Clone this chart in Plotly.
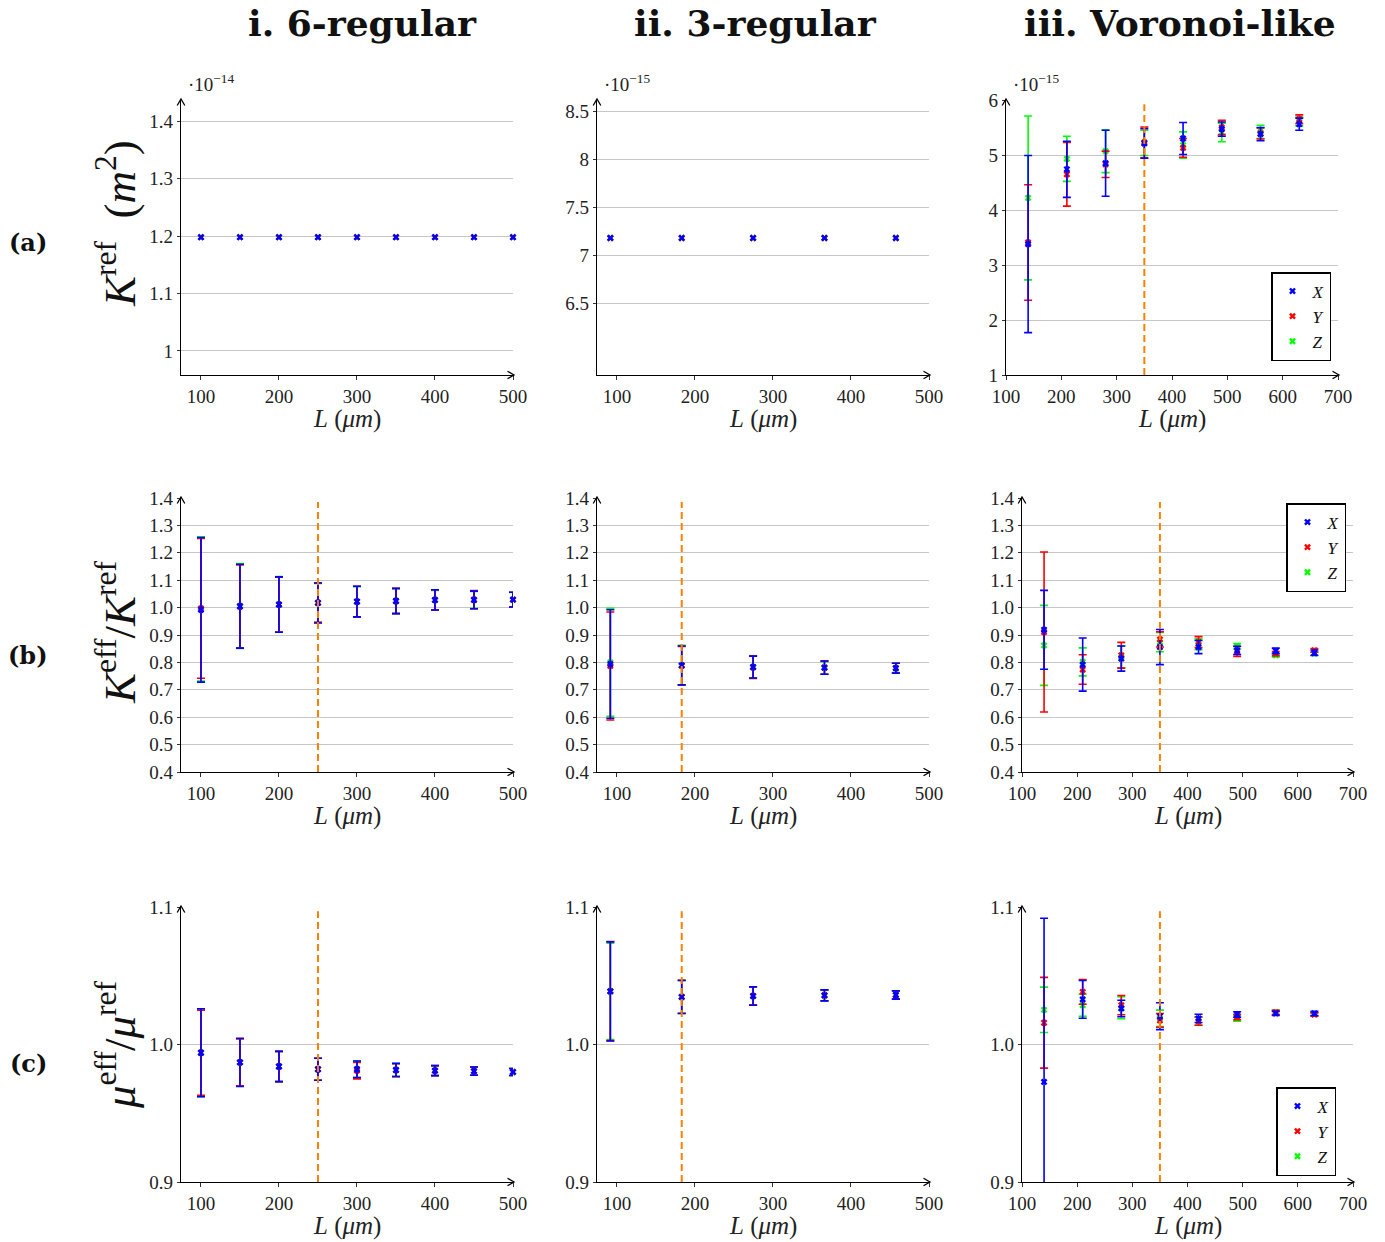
import plotly.graph_objects as go

W, H = 1385, 1242

# ------------------------------------------------------------------
# Sample sizes L (micrometres)
# ------------------------------------------------------------------
L_6reg = [100, 150, 200, 250, 300, 350, 400, 450, 500]
L_3reg = [91.5, 183, 274.5, 366, 457.5]
L_vor = [140, 210, 280, 350, 420, 490, 560, 630]

# ------------------------------------------------------------------
# Row (a): reference permeability K_ref
# 6-regular in units of 1e-14 m^2, 3-regular / Voronoi in 1e-15 m^2
# ------------------------------------------------------------------
kref_6reg_x = [1.198] * 9
kref_6reg_y = [1.198] * 9
kref_6reg_z = [1.198] * 9

kref_3reg_x = [7.18] * 5
kref_3reg_y = [7.18] * 5
kref_3reg_z = [7.18] * 5

kref_vor_x = [3.38, 4.74, 4.85, 5.21, 5.30, 5.47, 5.38, 5.56]
kref_vor_x_err = [1.61, 0.51, 0.60, 0.27, 0.29, 0.13, 0.12, 0.11]
kref_vor_y = [3.41, 4.65, 4.83, 5.23, 5.13, 5.50, 5.39, 5.65]
kref_vor_y_err = [1.05, 0.58, 0.24, 0.28, 0.17, 0.13, 0.10, 0.08]
kref_vor_z = [4.22, 4.93, 5.07, 5.22, 5.18, 5.41, 5.42, 5.61]
kref_vor_z_err = [1.49, 0.41, 0.39, 0.23, 0.24, 0.17, 0.12, 0.08]

# ------------------------------------------------------------------
# Row (b): K_eff / K_ref
# ------------------------------------------------------------------
keff_6reg_x = [0.992, 1.005, 1.011, 1.017, 1.022, 1.024, 1.028, 1.028, 1.029]
keff_6reg_x_err = [0.264, 0.153, 0.101, 0.073, 0.056, 0.046, 0.037, 0.032, 0.027]
keff_6reg_y = [0.997, 1.004, 1.011, 1.018, 1.022, 1.024, 1.028, 1.029, 1.029]
keff_6reg_y_err = [0.255, 0.152, 0.100, 0.072, 0.056, 0.046, 0.037, 0.033, 0.027]
keff_6reg_z = [0.995, 1.006, 1.012, 1.017, 1.021, 1.024, 1.027, 1.028, 1.029]
keff_6reg_z_err = [0.263, 0.155, 0.101, 0.071, 0.055, 0.045, 0.036, 0.031, 0.026]

keff_3reg_x = [0.794, 0.789, 0.783, 0.781, 0.779]
keff_3reg_x_err = [0.198, 0.071, 0.040, 0.024, 0.018]
keff_3reg_y = [0.787, 0.788, 0.782, 0.781, 0.779]
keff_3reg_y_err = [0.197, 0.070, 0.041, 0.024, 0.018]
keff_3reg_z = [0.800, 0.790, 0.784, 0.780, 0.780]
keff_3reg_z_err = [0.197, 0.072, 0.040, 0.023, 0.017]

keff_vor_x = [0.919, 0.792, 0.814, 0.856, 0.856, 0.844, 0.842, 0.835]
keff_vor_x_err = [0.144, 0.097, 0.046, 0.064, 0.024, 0.015, 0.010, 0.010]
keff_vor_y = [0.911, 0.774, 0.826, 0.884, 0.874, 0.840, 0.832, 0.844]
keff_vor_y_err = [0.292, 0.054, 0.047, 0.028, 0.020, 0.018, 0.008, 0.007]
keff_vor_z = [0.862, 0.802, 0.820, 0.874, 0.866, 0.859, 0.826, 0.832]
keff_vor_z_err = [0.146, 0.051, 0.040, 0.035, 0.020, 0.010, 0.006, 0.006]

# ------------------------------------------------------------------
# Row (c): mu_eff / mu_ref
# ------------------------------------------------------------------
mu_6reg_x = [0.994, 0.987, 0.984, 0.982, 0.982, 0.9815, 0.981, 0.9806, 0.980]
mu_6reg_x_err = [0.032, 0.0175, 0.011, 0.008, 0.006, 0.0048, 0.0036, 0.003, 0.0025]
mu_6reg_y = [0.994, 0.987, 0.984, 0.982, 0.981, 0.9813, 0.981, 0.9806, 0.980]
mu_6reg_y_err = [0.031, 0.0170, 0.011, 0.008, 0.006, 0.0047, 0.0036, 0.003, 0.0025]
mu_6reg_z = [0.994, 0.987, 0.984, 0.982, 0.982, 0.9815, 0.981, 0.9806, 0.980]
mu_6reg_z_err = [0.032, 0.0172, 0.011, 0.008, 0.006, 0.0047, 0.0035, 0.003, 0.0025]

mu_3reg_x = [1.0386, 1.0345, 1.0352, 1.0357, 1.0360]
mu_3reg_x_err = [0.036, 0.012, 0.0067, 0.004, 0.003]
mu_3reg_y = [1.0388, 1.0347, 1.0354, 1.0358, 1.0361]
mu_3reg_y_err = [0.036, 0.012, 0.0066, 0.004, 0.003]
mu_3reg_z = [1.0386, 1.0346, 1.0352, 1.0357, 1.0360]
mu_3reg_z_err = [0.035, 0.012, 0.0066, 0.004, 0.003]

mu_vor_x = [0.9728, 1.0328, 1.0262, 1.0206, 1.0190, 1.0218, 1.0226, 1.0226]
mu_vor_x_err = [0.119, 0.0137, 0.006, 0.0098, 0.003, 0.002, 0.0015, 0.0015]
mu_vor_y = [1.0158, 1.0383, 1.0286, 1.0175, 1.0170, 1.0200, 1.0233, 1.0218]
mu_vor_y_err = [0.033, 0.009, 0.007, 0.005, 0.003, 0.002, 0.0015, 0.0012]
mu_vor_z = [1.0252, 1.0286, 1.0267, 1.0190, 1.0170, 1.0190, 1.0233, 1.0220]
mu_vor_z_err = [0.0165, 0.008, 0.008, 0.006, 0.003, 0.002, 0.0015, 0.0012]

# ------------------------------------------------------------------
# Labels
# ------------------------------------------------------------------
column_titles = ["i. 6-regular", "ii. 3-regular", "iii. Voronoi-like"]
row_labels = ["(a)", "(b)", "(c)"]
row_ytitles = [
    "<i>K</i><sup>ref</sup>\u2002(<i>m</i><sup>2</sup>)",
    "<i>K</i><sup>eff</sup>/<i>K</i><sup>ref</sup>",
    "<i>μ</i><sup>eff</sup>/<i>μ</i><sup>ref</sup>",
]
x_title = "<i>L</i> (<i>μm</i>)"
exponent_labels = ["·10<sup>−14</sup>", "·10<sup>−15</sup>", "·10<sup>−15</sup>"]

xticks_short = [100, 200, 300, 400, 500]
xticks_vor = [100, 200, 300, 400, 500, 600, 700]

yticks_a6 = [1.0, 1.1, 1.2, 1.3, 1.4]
yticks_a6_text = ["1", "1.1", "1.2", "1.3", "1.4"]
yticks_a3 = [6.5, 7.0, 7.5, 8.0, 8.5]
yticks_a3_text = ["6.5", "7", "7.5", "8", "8.5"]
yticks_av = [1, 2, 3, 4, 5, 6]
yticks_av_text = ["1", "2", "3", "4", "5", "6"]
yticks_b = [0.4, 0.5, 0.6, 0.7, 0.8, 0.9, 1.0, 1.1, 1.2, 1.3, 1.4]
yticks_b_text = ["%.1f" % v for v in yticks_b]
yticks_c = [0.9, 1.0, 1.1]
yticks_c_text = ["0.9", "1.0", "1.1"]

# Representative volume element thresholds (orange dashed lines)
rve_6reg = 250
rve_3reg = 183
rve_vor = 350

# ------------------------------------------------------------------
# Layout geometry (pixels from the top-left corner)
# ------------------------------------------------------------------
SERIF = "Liberation Serif, Times New Roman, serif"
BOLD_SERIF = "DejaVu Serif, Liberation Serif, serif"
COLORS = {"X": "#0000ff", "Y": "#ff0000", "Z": "#00ff00"}
GRID = "#c6c6c6"

col_px = [[(181, 513), (597, 929), (1006, 1338)],
          [(181, 513), (597, 929), (1022, 1353)],
          [(181, 513), (597, 929), (1022, 1353)]]
row_px = [(100, 375), (498, 772), (907, 1182)]


def px_x(p):
    return p / W


def px_y(p):
    return 1 - p / H


panels = [
    # row a
    dict(L=L_6reg, s={"X": (kref_6reg_x, None), "Y": (kref_6reg_y, None), "Z": (kref_6reg_z, None)},
         xr=[74.4, 500], xt=xticks_short, yr=[0.958, 1.437], yt=yticks_a6, ytt=yticks_a6_text, rve=None, legend=None),
    dict(L=L_3reg, s={"X": (kref_3reg_x, None), "Y": (kref_3reg_y, None), "Z": (kref_3reg_z, None)},
         xr=[74.4, 500], xt=xticks_short, yr=[5.75, 8.62], yt=yticks_a3, ytt=yticks_a3_text, rve=None, legend=None),
    dict(L=L_vor, s={"X": (kref_vor_x, kref_vor_x_err), "Y": (kref_vor_y, kref_vor_y_err), "Z": (kref_vor_z, kref_vor_z_err)},
         xr=[100, 700], xt=xticks_vor, yr=[1, 6], yt=yticks_av, ytt=yticks_av_text, rve=rve_vor, legend="legend"),
    # row b
    dict(L=L_6reg, s={"X": (keff_6reg_x, keff_6reg_x_err), "Y": (keff_6reg_y, keff_6reg_y_err), "Z": (keff_6reg_z, keff_6reg_z_err)},
         xr=[74.4, 500], xt=xticks_short, yr=[0.4, 1.4], yt=yticks_b, ytt=yticks_b_text, rve=rve_6reg, legend=None),
    dict(L=L_3reg, s={"X": (keff_3reg_x, keff_3reg_x_err), "Y": (keff_3reg_y, keff_3reg_y_err), "Z": (keff_3reg_z, keff_3reg_z_err)},
         xr=[74.4, 500], xt=xticks_short, yr=[0.4, 1.4], yt=yticks_b, ytt=yticks_b_text, rve=rve_3reg, legend=None),
    dict(L=L_vor, s={"X": (keff_vor_x, keff_vor_x_err), "Y": (keff_vor_y, keff_vor_y_err), "Z": (keff_vor_z, keff_vor_z_err)},
         xr=[100, 700], xt=xticks_vor, yr=[0.4, 1.4], yt=yticks_b, ytt=yticks_b_text, rve=rve_vor, legend="legend2"),
    # row c
    dict(L=L_6reg, s={"X": (mu_6reg_x, mu_6reg_x_err), "Y": (mu_6reg_y, mu_6reg_y_err), "Z": (mu_6reg_z, mu_6reg_z_err)},
         xr=[74.4, 500], xt=xticks_short, yr=[0.9, 1.1], yt=yticks_c, ytt=yticks_c_text, rve=rve_6reg, legend=None),
    dict(L=L_3reg, s={"X": (mu_3reg_x, mu_3reg_x_err), "Y": (mu_3reg_y, mu_3reg_y_err), "Z": (mu_3reg_z, mu_3reg_z_err)},
         xr=[74.4, 500], xt=xticks_short, yr=[0.9, 1.1], yt=yticks_c, ytt=yticks_c_text, rve=rve_3reg, legend=None),
    dict(L=L_vor, s={"X": (mu_vor_x, mu_vor_x_err), "Y": (mu_vor_y, mu_vor_y_err), "Z": (mu_vor_z, mu_vor_z_err)},
         xr=[100, 700], xt=xticks_vor, yr=[0.9, 1.1], yt=yticks_c, ytt=yticks_c_text, rve=rve_vor, legend="legend3"),
]

fig = go.Figure()
layout = dict(
    width=W, height=H, margin=dict(l=0, r=0, t=0, b=0, pad=0, autoexpand=False),
    paper_bgcolor="white", plot_bgcolor="white",
    font=dict(family=SERIF, color="#222"),
)
annotations = []
shapes = []


def chevron(tip_x, tip_y, direction):
    """Open arrow tip (pgfplots style) at the end of an axis line."""
    a, b = 6.5, 3.8
    if direction == "right":
        pts = [(tip_x - a, tip_y - b), (tip_x, tip_y), (tip_x - a, tip_y + b)]
    else:
        pts = [(tip_x - b, tip_y + a), (tip_x, tip_y), (tip_x + b, tip_y + a)]
    path = "M %f,%f L %f,%f L %f,%f" % tuple(
        v for (px, py) in pts for v in (px_x(px), px_y(py)))
    return dict(type="path", xref="paper", yref="paper", path=path,
                line=dict(color="black", width=1.3), layer="above")


for i, p in enumerate(panels):
    r, c = divmod(i, 3)
    n = i + 1
    xs = "" if n == 1 else str(n)
    x0, x1 = col_px[r][c]
    ytop, ybot = row_px[r]

    # Z first so that X ends up on top
    for name in ["Z", "Y", "X"]:
        vals, errs = p["s"][name]
        tr = dict(
            x=p["L"], y=vals, mode="markers", name="<i>%s</i>" % name,
            xaxis="x" + xs, yaxis="y" + xs,
            marker=dict(symbol="x", size=6, color=COLORS[name]),
            showlegend=p["legend"] is not None,
            cliponaxis=False,
        )
        if p["legend"] is not None:
            tr["legend"] = p["legend"]
        if errs is not None:
            tr["error_y"] = dict(type="data", array=errs, visible=True,
                                 color=COLORS[name], thickness=1.6, width=4)
        fig.add_trace(go.Scatter(**tr))

    layout["xaxis" + xs] = dict(
        domain=[px_x(x0), px_x(x1)], range=p["xr"], anchor="y" + xs,
        tickvals=p["xt"], showgrid=False, zeroline=False, automargin=False,
        showline=True, linecolor="black", linewidth=1.3,
        ticks="outside", ticklen=4, tickcolor="#333", tickwidth=1,
        tickfont=dict(family=SERIF, size=19, color="#222"),
    )
    layout["yaxis" + xs] = dict(
        domain=[px_y(ybot), px_y(ytop)], range=p["yr"], anchor="x" + xs,
        tickvals=p["yt"], ticktext=p["ytt"], automargin=False,
        showgrid=True, gridcolor=GRID, gridwidth=1, zeroline=False,
        showline=True, linecolor="black", linewidth=1.3,
        ticks="outside", ticklen=3, tickcolor="#333", tickwidth=1,
        tickfont=dict(family=SERIF, size=19, color="#222"),
    )

    # axis arrow heads
    shapes.append(chevron(x1 + 1, ybot, "right"))
    shapes.append(chevron(x0, ytop - 1, "up"))

    # x axis title
    annotations.append(dict(
        x=px_x((x0 + x1) / 2), y=px_y(ybot + 44), xref="paper", yref="paper",
        text=x_title, showarrow=False, xanchor="center", yanchor="middle",
        font=dict(family=SERIF, size=25, color="#222"),
    ))

    # RVE threshold line
    if p["rve"] is not None:
        shapes.append(dict(
            type="line", xref="x" + xs, yref="y%s domain" % xs,
            x0=p["rve"], x1=p["rve"], y0=0, y1=0.985,
            line=dict(color="#ff8000", width=2, dash="7px,4px"),
        ))

# exponent labels on row (a)
for c, txt in enumerate(exponent_labels):
    x0 = col_px[0][c][0]
    annotations.append(dict(
        x=px_x(x0 + 5), y=px_y(83), xref="paper", yref="paper", text=txt,
        showarrow=False, xanchor="left", yanchor="middle",
        font=dict(family=SERIF, size=19, color="#222"),
    ))

# column titles
for c, txt in enumerate(column_titles):
    cx = [362, 755, 1180][c]
    annotations.append(dict(
        x=px_x(cx), y=px_y(23), xref="paper", yref="paper",
        text="<b>%s</b>" % txt, showarrow=False, xanchor="center", yanchor="middle",
        font=dict(family=BOLD_SERIF, size=36, color="#111"),
    ))

# row labels and y titles
for r in range(3):
    cy = [243, 655, 1063][r]
    annotations.append(dict(
        x=px_x(28), y=px_y(cy), xref="paper", yref="paper",
        text="<b>%s</b>" % row_labels[r], showarrow=False,
        xanchor="center", yanchor="middle",
        font=dict(family=BOLD_SERIF, size=24, color="#111"),
    ))
    ty = [224, 633, 1045][r]
    annotations.append(dict(
        x=px_x(116), y=px_y(ty), xref="paper", yref="paper",
        text=row_ytitles[r], showarrow=False, textangle=-90,
        xanchor="center", yanchor="middle",
        font=dict(family=SERIF, size=45, color="#111"),
    ))

legend_style = dict(
    xref="paper", yref="paper", xanchor="right", yanchor="top",
    bgcolor="white", bordercolor="black", borderwidth=1.5,
    font=dict(family=SERIF, size=17, color="#111"),
    itemwidth=30, tracegroupgap=0, traceorder="reversed",
)
layout["legend"] = dict(x=px_x(1331), y=px_y(272), **legend_style)
layout["legend2"] = dict(x=px_x(1346), y=px_y(503), **legend_style)
layout["legend3"] = dict(x=px_x(1336), y=px_y(1087), **legend_style)

layout["annotations"] = annotations
layout["shapes"] = shapes
fig.update_layout(**layout)

fig.write_html("out.html")
